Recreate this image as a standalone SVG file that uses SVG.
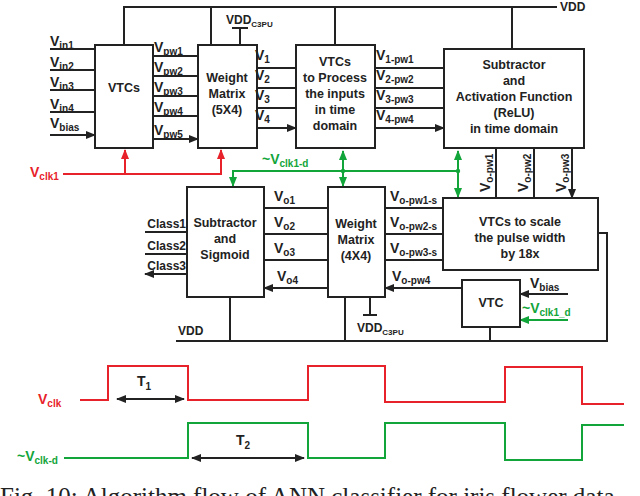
<svg xmlns="http://www.w3.org/2000/svg" width="640" height="496" viewBox="0 0 640 496">
<defs>
<marker id="ak" markerWidth="10" markerHeight="8" refX="9" refY="4" orient="auto" markerUnits="userSpaceOnUse"><path d="M0,0 L10,4 L0,8 Z" fill="#222"/></marker>
<marker id="ar" markerWidth="10" markerHeight="8" refX="9" refY="4" orient="auto" markerUnits="userSpaceOnUse"><path d="M0,0 L10,4 L0,8 Z" fill="#e8222a"/></marker>
<marker id="ag" markerWidth="10" markerHeight="8" refX="9" refY="4" orient="auto" markerUnits="userSpaceOnUse"><path d="M0,0 L10,4 L0,8 Z" fill="#12a53a"/></marker>
<marker id="agS" markerWidth="10" markerHeight="8" refX="1" refY="4" orient="auto" markerUnits="userSpaceOnUse"><path d="M10,0 L0,4 L10,8 Z" fill="#12a53a"/></marker>
<marker id="akS" markerWidth="10" markerHeight="8" refX="1" refY="4" orient="auto" markerUnits="userSpaceOnUse"><path d="M10,0 L0,4 L10,8 Z" fill="#222"/></marker>
</defs>
<style>
text{font-family:"Liberation Sans",Arial,sans-serif;font-weight:bold;fill:#222}
.b{fill:#fff;stroke:#222;stroke-width:2}
.t{font-size:12.5px;text-anchor:middle}
.l{font-size:14px}
.s{font-size:10px}
.k{stroke:#222;stroke-width:2;fill:none}
.a{stroke:#222;stroke-width:2;fill:none;marker-end:url(#ak)}
.r{stroke:#e8222a;stroke-width:2;fill:none}
.g{stroke:#12a53a;stroke-width:2;fill:none}
.red{fill:#e8222a}
.grn{fill:#12a53a}
</style>
<g id="connectors">
<path class="k" d="M124,45V7H557M211,45V7M335,45V7M512,49V7"/>
<path class="k" d="M240,45V28M232,28H248"/>
<path class="a" d="M50,49H95M50,70H95M50,90H95M50,112H95M50,135H95"/>
<path class="a" d="M153,56H198M153,76H198M153,96H198M153,116H198M153,139H198"/>
<path class="a" d="M257,68H296M257,88H296M257,108H296M257,128H296"/>
<path class="a" d="M375,68H444M375,88H444M375,108H444M375,128H444"/>
<path class="a" d="M496,148V198M534,148V198M572,148V198"/>
<path class="r" d="M63,174H221V150M125,174V150" />
<path d="M221,158V150" stroke="#e8222a" stroke-width="2" marker-end="url(#ar)"/>
<path d="M125,158V150" stroke="#e8222a" stroke-width="2" marker-end="url(#ar)"/>
<path class="g" d="M458,171H233V186" marker-end="url(#ag)"/>
<path class="g" d="M343,151V186" marker-start="url(#agS)" marker-end="url(#ag)"/>
<path class="g" d="M458,151V197" marker-start="url(#agS)" marker-end="url(#ag)"/>
<circle cx="343" cy="171" r="2.2" fill="#12a53a"/><circle cx="458" cy="171" r="2.2" fill="#12a53a"/>
<path class="a" d="M328,208H264M328,234H264M328,260H264M328,288H264"/>
<path class="a" d="M443,208H385M443,234H385M443,260H385M462,288H385"/>
<path class="a" d="M187,232H145M187,254H145M187,274H145"/>
<path class="a" d="M568,294H520"/>
<path class="g" d="M568,320H520" marker-end="url(#ag)"/>
<path class="k" d="M176,341H607V233H598M230,297V341M345,297V341M490,327V341"/>
<path class="k" d="M370,297V315M363,315H377"/>
</g>
<g id="vtcs"><rect class="b" x="95" y="45" width="58" height="103"/><text class="t" x="124" y="92">VTCs</text></g>
<g id="wm54"><rect class="b" x="198" y="45" width="59" height="103"/><text class="t" x="227" y="82">Weight</text><text class="t" x="227" y="98">Matrix</text><text class="t" x="227" y="114">(5X4)</text></g>
<g id="vtcs2"><rect class="b" x="296" y="45" width="79" height="103"/><text class="t" x="335" y="66">VTCs</text><text class="t" x="335" y="82">to Process</text><text class="t" x="335" y="98">the inputs</text><text class="t" x="335" y="114">in time</text><text class="t" x="335" y="130">domain</text></g>
<g id="relu"><rect class="b" x="444" y="49" width="140" height="99"/><text class="t" x="514" y="69">Subtractor</text><text class="t" x="514" y="85">and</text><text class="t" x="514" y="101">Activation Function</text><text class="t" x="514" y="117">(ReLU)</text><text class="t" x="514" y="133">in time domain</text></g>
<g id="sigmoid"><rect class="b" x="187" y="187" width="77" height="110"/><text class="t" x="225" y="227">Subtractor</text><text class="t" x="225" y="243">and</text><text class="t" x="225" y="259">Sigmoid</text></g>
<g id="wm44"><rect class="b" x="328" y="187" width="57" height="110"/><text class="t" x="356" y="228">Weight</text><text class="t" x="356" y="244">Matrix</text><text class="t" x="356" y="260">(4X4)</text></g>
<g id="scale"><rect class="b" x="443" y="198" width="155" height="72"/><text class="t" x="520" y="226">VTCs to scale</text><text class="t" x="520" y="242">the pulse width</text><text class="t" x="520" y="258">by 18x</text></g>
<g id="vtc"><rect class="b" x="462" y="280" width="58" height="47"/><text class="t" x="491" y="307">VTC</text></g>
<g id="labels">
<text class="l" x="50" y="46">V<tspan class="s" dy="3">in1</tspan></text>
<text class="l" x="50" y="67">V<tspan class="s" dy="3">in2</tspan></text>
<text class="l" x="50" y="87">V<tspan class="s" dy="3">in3</tspan></text>
<text class="l" x="50" y="109">V<tspan class="s" dy="3">in4</tspan></text>
<text class="l" x="50" y="128">V<tspan class="s" dy="3">bias</tspan></text>
<text class="l" x="154" y="52">V<tspan class="s" dy="3">pw1</tspan></text>
<text class="l" x="154" y="72">V<tspan class="s" dy="3">pw2</tspan></text>
<text class="l" x="154" y="92">V<tspan class="s" dy="3">pw3</tspan></text>
<text class="l" x="154" y="112">V<tspan class="s" dy="3">pw4</tspan></text>
<text class="l" x="154" y="135">V<tspan class="s" dy="3">pw5</tspan></text>
<text class="l" x="255" y="60">V<tspan class="s" dy="3">1</tspan></text>
<text class="l" x="255" y="80">V<tspan class="s" dy="3">2</tspan></text>
<text class="l" x="255" y="100">V<tspan class="s" dy="3">3</tspan></text>
<text class="l" x="255" y="120">V<tspan class="s" dy="3">4</tspan></text>
<text class="l" x="376" y="60">V<tspan class="s" dy="3">1-pw1</tspan></text>
<text class="l" x="376" y="80">V<tspan class="s" dy="3">2-pw2</tspan></text>
<text class="l" x="376" y="100">V<tspan class="s" dy="3">3-pw3</tspan></text>
<text class="l" x="376" y="120">V<tspan class="s" dy="3">4-pw4</tspan></text>
<text class="l" x="226" y="24" style="font-size:12px">VDD<tspan class="s" dy="3" style="font-size:8px">C3PU</tspan></text>
<text class="l" x="560" y="11" style="font-size:12px">VDD</text>
<text class="l red" x="30" y="177">V<tspan class="s red" dy="3">clk1</tspan></text>
<text class="l grn" x="262" y="164">~V<tspan class="s grn" dy="3">clk1-d</tspan></text>
<g transform="translate(490,192) rotate(-90)"><text class="l">V<tspan class="s" dy="3">o-pw1</tspan></text></g>
<g transform="translate(528,192) rotate(-90)"><text class="l">V<tspan class="s" dy="3">o-pw2</tspan></text></g>
<g transform="translate(566,192) rotate(-90)"><text class="l">V<tspan class="s" dy="3">o-pw3</tspan></text></g>
<text class="l" x="274" y="201">V<tspan class="s" dy="3">o1</tspan></text>
<text class="l" x="274" y="227">V<tspan class="s" dy="3">o2</tspan></text>
<text class="l" x="274" y="253">V<tspan class="s" dy="3">o3</tspan></text>
<text class="l" x="277" y="281">V<tspan class="s" dy="3">o4</tspan></text>
<text class="l" x="390" y="201">V<tspan class="s" dy="3">o-pw1-s</tspan></text>
<text class="l" x="390" y="227">V<tspan class="s" dy="3">o-pw2-s</tspan></text>
<text class="l" x="390" y="253">V<tspan class="s" dy="3">o-pw3-s</tspan></text>
<text class="l" x="392" y="281">V<tspan class="s" dy="3">o-pw4</tspan></text>
<text x="186" y="228" style="font-size:12px;text-anchor:end">Class1</text>
<text x="186" y="250" style="font-size:12px;text-anchor:end">Class2</text>
<text x="186" y="270" style="font-size:12px;text-anchor:end">Class3</text>
<text class="l" x="530" y="288">V<tspan class="s" dy="3">bias</tspan></text>
<text class="l grn" x="522" y="313">~V<tspan class="s grn" dy="3">clk1_d</tspan></text>
<text x="178" y="335" style="font-size:12px">VDD</text>
<text x="357" y="332" style="font-size:12px">VDD<tspan dy="3" style="font-size:8px">C3PU</tspan></text>
</g>
<g id="waveforms">
<path class="r" stroke-width="2.5" d="M80,400H108V366H188V400H308V366H385V402H505V367H582V404H624"/>
<path class="g" stroke-width="2.5" d="M64,458H188V423H308V458H385V423H505V460H582V425H624"/>
<path d="M117,399H184" stroke="#222" stroke-width="2" marker-start="url(#akS)" marker-end="url(#ak)"/>
<path d="M192,458H304" stroke="#222" stroke-width="2" marker-start="url(#akS)" marker-end="url(#ak)"/>
<text class="l" x="137" y="386">T<tspan class="s" dy="4">1</tspan></text>
<text class="l" x="236" y="445">T<tspan class="s" dy="4">2</tspan></text>
<text class="l red" x="38" y="404">V<tspan class="s red" dy="3">clk</tspan></text>
<text class="l grn" x="17" y="461">~V<tspan class="s grn" dy="3">clk-d</tspan></text>
</g>
<text x="0" y="505" style="font-family:'Liberation Serif',serif;font-weight:normal;font-size:25px">Fig. 10: Algorithm flow of ANN classifier for iris flower data</text>
</svg>
